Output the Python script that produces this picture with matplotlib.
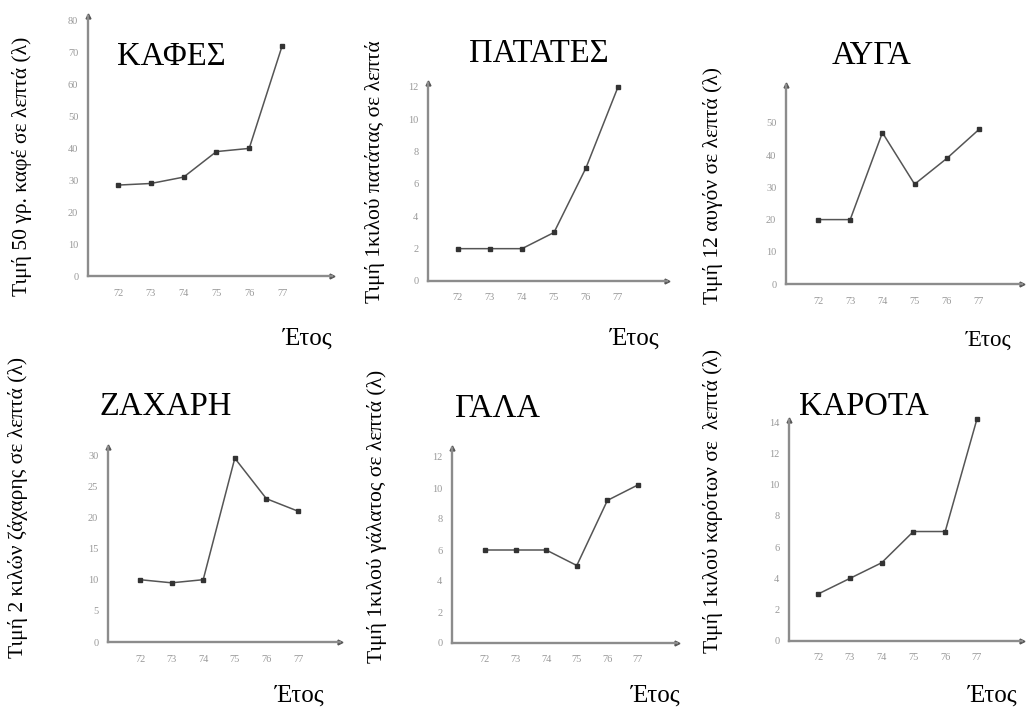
import matplotlib
matplotlib.use("Agg")
import matplotlib.pyplot as plt

plt.rcParams['font.family'] = ['Liberation Serif', 'DejaVu Serif']

years = [72, 73, 74, 75, 76, 77]
year_labels = ["72", "73", "74", "75", "76", "77"]

titles = ["ΚΑΦΕΣ", "ΠΑΤΑΤΕΣ", "ΑΥΓΑ", "ΖΑΧΑΡΗ", "ΓΑΛΑ", "ΚΑΡΟΤΑ"]
ylabels = ["Τιμή 50 γρ. καφέ σε λεπτά (λ)",
           "Τιμή 1κιλού πατάτας σε λεπτά",
           "Τιμή 12 αυγόν σε λεπτά (λ)",
           "Τιμή 2 κιλών ζάχαρης σε λεπτά (λ)",
           "Τιμή 1κιλού γάλατος σε λεπτά (λ)",
           "Τιμή 1κιλού καρότων σε  λεπτά (λ)"]
xlabel = "Έτος"

coffee = [28.5, 29, 31, 39, 40, 72]
potatoes = [2, 2, 2, 3, 7, 12]
eggs = [20, 20, 47, 31, 39, 48]
sugar = [10, 9.5, 10, 29.5, 23, 21]
milk = [6, 6, 6, 5, 9.2, 10.2]
carrots = [3, 4, 5, 7, 7, 14.2]
series = [coffee, potatoes, eggs, sugar, milk, carrots]

yticks = [list(range(0, 81, 10)), list(range(0, 13, 2)), list(range(0, 51, 10)),
          list(range(0, 31, 5)), list(range(0, 13, 2)), list(range(0, 15, 2))]

W, H = 1026, 708
fig = plt.figure(figsize=(W / 100, H / 100), dpi=100)

# layout in pixels: origin x, origin y, right end, top end, x of year 72, px/year, px/unit
layout = [
    (88, 276, 332, 16, 118, 32.8, 3.19),
    (428, 281, 667, 83, 458, 32.0, 16.17),
    (786, 284, 1022, 85, 818, 32.2, 3.22),
    (108, 642, 340, 447, 140, 31.6, 6.23),
    (452, 643, 677, 448, 485, 30.6, 15.5),
    (789, 641, 1022, 420, 818, 31.8, 15.64),
]
title_pos = [(171, 57), (539, 54), (872, 56), (166, 407), (498, 409), (864, 407)]
ylabel_pos = [(22, 166), (375, 172), (713, 185), (18, 507), (377, 516), (713, 501)]
xlabel_pos = [(308, 339), (635, 339), (989, 340), (300, 696), (656, 696), (993, 696)]
xlabel_size = [18, 18, 16.5, 18, 18, 18]

axis_col = '#8c8c8c'
tick_col = '#999999'

for i in range(6):
    ox, oy, xr, yt, x72, dx, dy = layout[i]
    ax = fig.add_axes([ox / W, (H - oy) / H, (xr - ox) / W, (oy - yt) / H])
    ax.set_xlim(72 - (x72 - ox) / dx, 72 + (xr - x72) / dx)
    ax.set_ylim(0, (oy - yt) / dy)
    for s in ['top', 'right']:
        ax.spines[s].set_visible(False)
    for s in ['left', 'bottom']:
        ax.spines[s].set_color(axis_col)
        ax.spines[s].set_linewidth(1.7)
    ax.plot(1, 0, '>', color='#555555', ms=3.5, transform=ax.transAxes, clip_on=False)
    ax.plot(0, 1, '^', color='#555555', ms=3.5, transform=ax.transAxes, clip_on=False)
    ax.set_xticks(years)
    ax.set_xticklabels(year_labels)
    ax.set_yticks(yticks[i])
    ax.tick_params(length=0, labelsize=7.5, labelcolor=tick_col)
    ax.tick_params(axis='x', pad=9)
    ax.tick_params(axis='y', pad=7)
    ax.patch.set_alpha(0)
    ax.plot(years, series[i], color='#555555', lw=1.1, marker='s', ms=3,
            mfc='#333333', mec='#333333', clip_on=False)

    tx, ty = title_pos[i]
    fig.text(tx / W, 1 - ty / H, titles[i], fontsize=23.5, ha='center', va='center')
    lx, ly = ylabel_pos[i]
    fig.text(lx / W, 1 - ly / H, ylabels[i], fontsize=15.5, rotation=90,
             ha='center', va='center')
    ex, ey = xlabel_pos[i]
    fig.text(ex / W, 1 - ey / H, xlabel, fontsize=xlabel_size[i], ha='center', va='center')

fig.savefig("out.png", dpi=100)
